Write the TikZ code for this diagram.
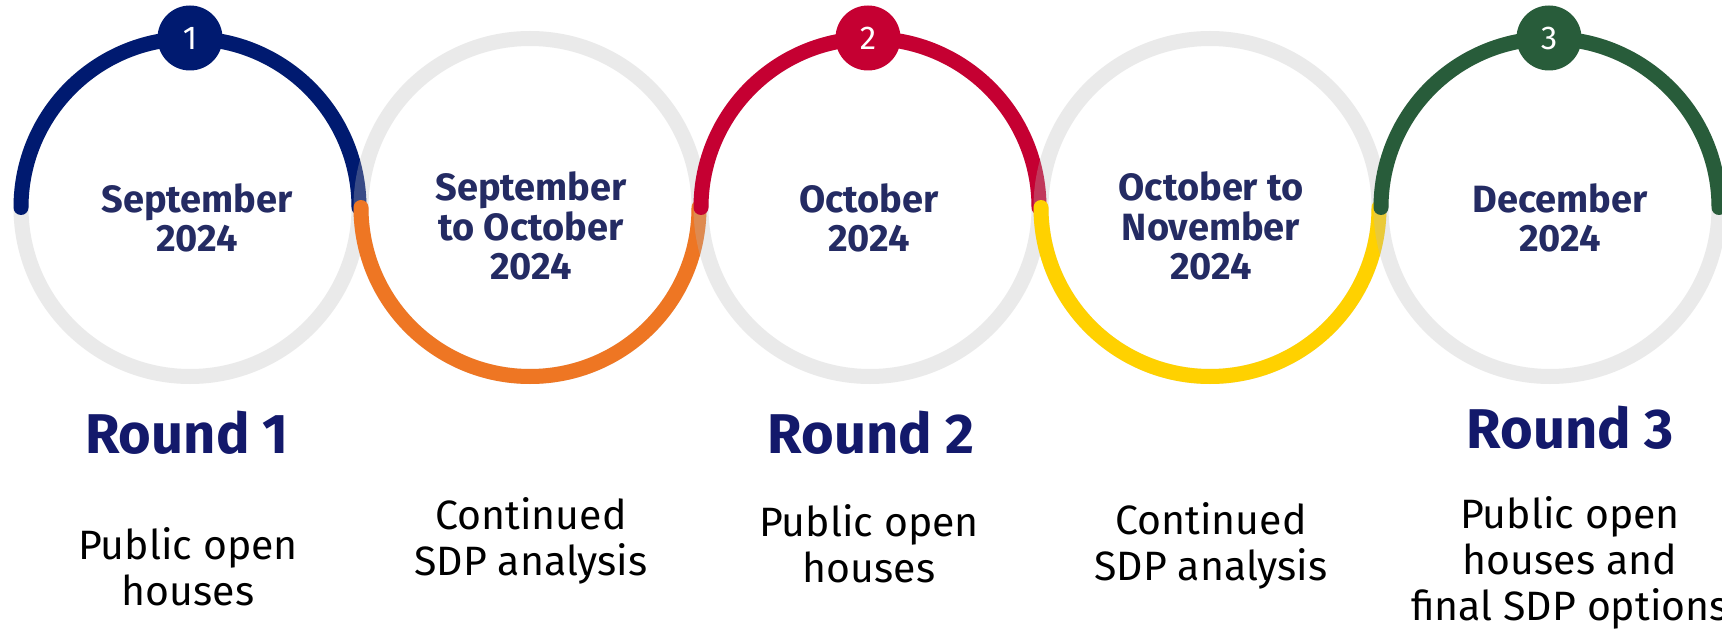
\documentclass[tikz,border=0pt]{standalone}
\usepackage{fontspec}
\setmainfont{Fira Sans}
\definecolor{navyarc}{RGB}{0,26,112}
\definecolor{orangearc}{RGB}{238,118,35}
\definecolor{redarc}{RGB}{197,0,50}
\definecolor{yellowarc}{RGB}{255,209,0}
\definecolor{greenarc}{RGB}{40,92,58}
\definecolor{ringgray}{RGB}{187,187,187}
\definecolor{datecol}{RGB}{36,43,99}
\definecolor{roundcol}{RGB}{19,25,107}
\tikzset{
  ringbg/.style={draw=ringgray, draw opacity=0.3, line width=15pt},
  colarc/.style={line width=15pt, line cap=round},
  badge/.style={circle, minimum size=65pt, inner sep=0pt, text=white, font=\fontsize{33}{33}\selectfont},
  datetxt/.style={anchor=base, align=center, text=datecol, inner sep=0pt, font=\bfseries\fontsize{38}{39.5}\selectfont},
  roundtxt/.style={anchor=base, inner sep=0pt, text=roundcol, font=\bfseries\fontsize{56}{56}\selectfont},
  desctxt/.style={anchor=base, align=center, text=black, inner sep=0pt, font=\fontsize{41}{46}\selectfont}
}
\begin{document}
\begin{tikzpicture}[x=1pt,y=1pt]
\useasboundingbox (0,0) rectangle (1722,633);
\fill[white] (0,0) rectangle (1722,633);
\coordinate (c1) at (190,425.5);
\coordinate (c2) at (530,425.5);
\coordinate (c3) at (870,425.5);
\coordinate (c4) at (1210,425.5);
\coordinate (c5) at (1550,425.5);
% rings and coloured arcs
\draw[ringbg] (c1) circle[radius=169];
\draw[colarc, navyarc] (c1) ++(180:169) arc[start angle=180, end angle=0, radius=169];
\draw[ringbg] (c2) circle[radius=169];
\draw[colarc, orangearc] (c2) ++(180:169) arc[start angle=180, end angle=360, radius=169];
\draw[ringbg] (c3) circle[radius=169];
\draw[colarc, redarc] (c3) ++(180:169) arc[start angle=180, end angle=0, radius=169];
\draw[ringbg] (c4) circle[radius=169];
\draw[colarc, yellowarc] (c4) ++(180:169) arc[start angle=180, end angle=360, radius=169];
\draw[ringbg] (c5) circle[radius=169];
\draw[colarc, greenarc] (c5) ++(180:169) arc[start angle=180, end angle=0, radius=169];
% badges
\node[badge, fill=navyarc] (b1) at (190,595) {1};
\node[badge, fill=redarc] (b2) at (868,595) {2};
\node[badge, fill=greenarc] (b3) at (1549,595) {3};
% dates (anchor = baseline of last line)
\node[datetxt] (d1) at (197,381) {September\\2024};
\node[datetxt] (d2) at (531,353) {September\\to October\\2024};
\node[datetxt] (d3) at (869,381) {October\\2024};
\node[datetxt] (d4) at (1211,353) {October to\\November\\2024};
\node[datetxt] (d5) at (1560,381) {December\\2024};
% round labels
\node[roundtxt] (r1) at (187,180) {Round 1};
\node[roundtxt] (r2) at (871,180) {Round 2};
\node[roundtxt] (r3) at (1570,185) {Round 3};
% descriptions
\node[desctxt] (t1) at (188,28) {Public open\\houses};
\node[desctxt] (t2) at (531,58) {Continued\\SDP analysis};
\node[desctxt] (t3) at (869,51) {Public open\\houses};
\node[desctxt] (t4) at (1211,53) {Continued\\SDP analysis};
\node[desctxt] (t5) at (1570,13) {Public open\\houses and\\final SDP options};
\end{tikzpicture}
\end{document}
